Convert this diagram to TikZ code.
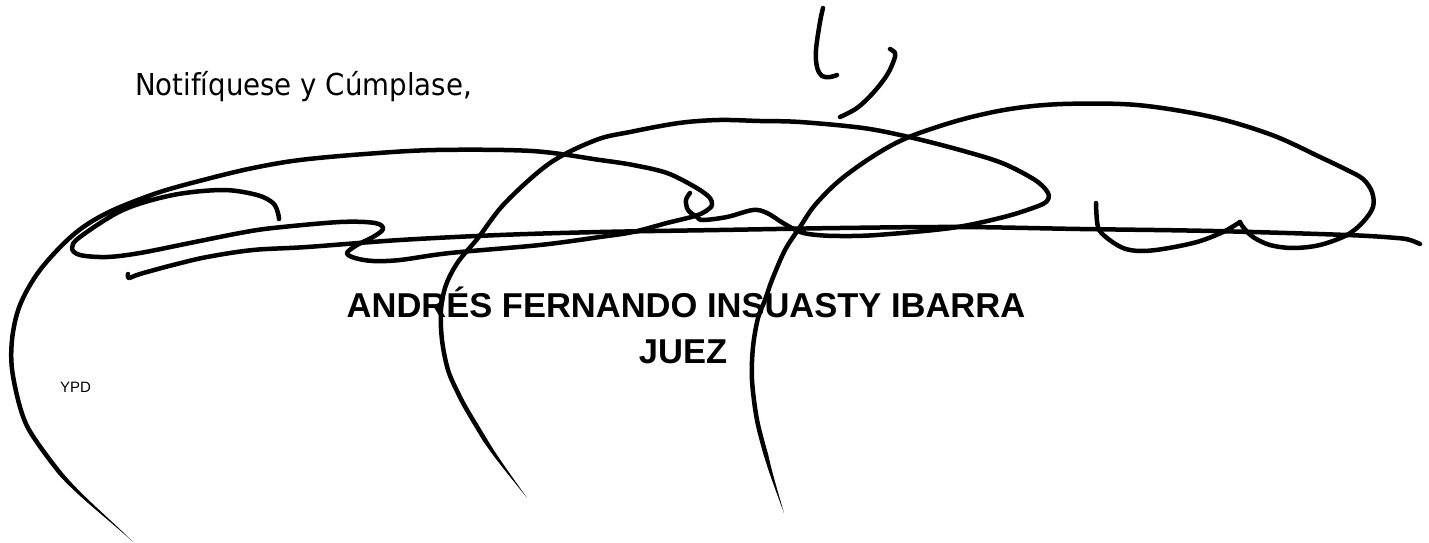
\documentclass[tikz,border=0pt]{standalone}
\usepackage{graphicx}
\usepackage{fontspec}
\newfontfamily\notiffont{DejaVu Sans}
\newfontfamily\arialfont{Liberation Sans}
\begin{document}
\begin{tikzpicture}[x=1pt,y=-1pt,
  ink/.style={line width=4.5pt, line cap=round, line join=round, black},
  tipfill/.style={fill=black, draw=none},
  txt/.style={inner sep=0pt, outer sep=0pt}]
\useasboundingbox (0,0) rectangle (1429,543);
\fill[white] (0,0) rectangle (1429,543);

% texts
\node[txt, anchor=base west] (notif) at (135,95)
  {\notiffont\fontsize{30.2}{36}\selectfont\scalebox{0.915}[1]{Notifíquese y Cúmplase,}};
\node[txt, anchor=base] (name) at (686,317)
  {\arialfont\bfseries\fontsize{34.5}{40}\selectfont ANDRÉS FERNANDO INSUASTY IBARRA};
\node[txt, anchor=base] (juez) at (683,363)
  {\arialfont\bfseries\fontsize{34.5}{40}\selectfont JUEZ};
\node[txt, anchor=base west] (ypd) at (60,392)
  {\arialfont\fontsize{15}{18}\selectfont YPD};

% top hooks
\draw[ink] plot[smooth, tension=0.6] coordinates {(823,8) (820,22) (816,50) (817,67) (822,76) (830,77) (837,75)};
\draw[ink] plot[smooth, tension=0.6] coordinates {(890,49) (895,53) (894,60) (887,75) (873,93) (857,108) (840,117)};

% left big arc + upper stroke + lower loop
\draw[ink] plot[smooth, tension=0.55] coordinates {
 (60,473) (27,426) (13,376) (12,340) (20,305) (40,270) (73,235) (107,213) (157,193)
 (207,179) (253,168) (300,160) (365,154) (436,150) (532,151) (600,160) (633,165)
 (667,173) (695,187) (709,197) (712,205) (706,211) (695,216) (667,223) (633,232)
 (600,237) (540,245) (450,253) (400,260) (373,261) (355,258) (347,253) (357,245)
 (373,237) (383,229) (375,223) (340,222) (273,228) (240,233) (190,243) (140,253)
 (107,257) (80,255) (72,248) (80,237) (123,210) (173,195) (223,190) (257,195)
 (273,203) (278,213) (279,219)};
\fill[tipfill] (61.66,471.56) .. controls (82.7,496.9) and (109.7,518.4) .. (133,542)
  .. controls (108.7,519.4) and (80.5,498.9) .. (58.34,474.44) -- cycle;

% long horizontal line
\draw[ink] plot[smooth, tension=0.55] coordinates {
 (128,274) (129,278) (140,274) (173,265) (207,257) (253,250) (307,247) (400,240)
 (500,235) (600,232) (719,230) (840,228) (960,227) (1080,229) (1213,231) (1347,235)
 (1397,238) (1410,240) (1420,244)};

% middle arc (from the small hook)
\draw[ink] plot[smooth, tension=0.55] coordinates {
 (690,193) (686,200) (688,210) (697,217) (703,220) (727,217) (753,210) (767,213)
 (783,223) (800,232) (817,235) (840,236) (877,235) (951,228) (1000,218) (1030,209)
 (1046,202) (1048,193) (1035,180) (1002,163) (960,150) (909,137) (863,128) (800,122)
 (760,121) (719,120) (679,123) (630,132) (596,140) (550,163) (505,203) (478,238)
 (458,262) (446,285) (441,310) (442,340) (448,370) (458,393) (467,410) (485,440)};
\fill[tipfill] (486.85,438.81) .. controls (499.1,459.4) and (513.4,478.3) .. (527,498)
  .. controls (512.2,479.1) and (496.7,461.0) .. (483.15,441.19) -- cycle;

% third arc with right loop
\draw[ink] plot[smooth, tension=0.55] coordinates {
 (766,455) (757,420) (752,380) (753,347) (758,318) (765,300) (772,280) (785,250)
 (800,227) (815,205) (840,180) (875,155) (909,137) (960,120) (1010,109) (1063,104)
 (1137,105) (1212,117) (1272,135) (1320,157) (1347,170) (1363,179) (1372,192)
 (1373,207) (1363,222) (1347,235) (1320,245) (1293,248) (1270,245) (1253,237)
 (1243,227) (1240,222)};
\draw[ink] plot[smooth, tension=0.55] coordinates {
 (1240,222) (1223,232) (1197,242) (1163,249) (1140,251) (1123,248) (1107,238)
 (1098,227) (1096,203)};
\fill[tipfill] (768.13,454.45) .. controls (772.4,474.0) and (778.5,493.8) .. (784,513)
  .. controls (777.1,494.2) and (769.6,474.8) .. (763.87,455.55) -- cycle;
\end{tikzpicture}
\end{document}
